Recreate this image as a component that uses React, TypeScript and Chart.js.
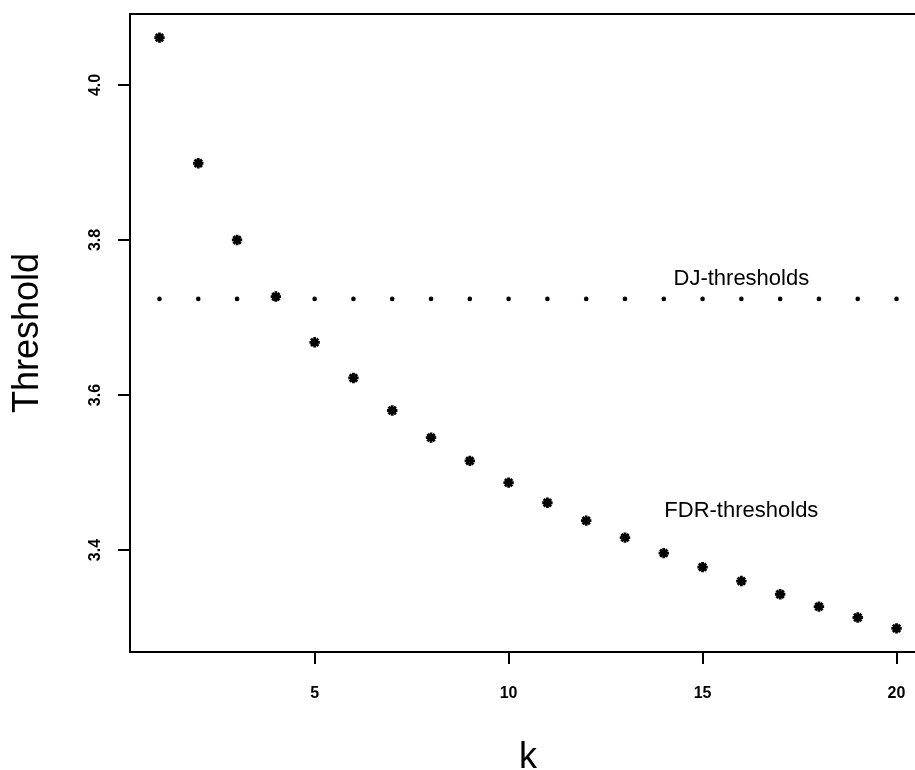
import React, { useEffect, useRef } from "react";
import { Chart, registerables } from "chart.js";

Chart.register(...registerables);

const kValues = [1, 2, 3, 4, 5, 6, 7, 8, 9, 10, 11, 12, 13, 14, 15, 16, 17, 18, 19, 20];
const fdrThresholds = [
  4.061, 3.899, 3.8, 3.727, 3.668, 3.622, 3.58, 3.545, 3.515, 3.487,
  3.461, 3.438, 3.416, 3.396, 3.378, 3.36, 3.343, 3.327, 3.313, 3.299,
];
const djThreshold = 3.724;
const xTicks = [5, 10, 15, 20];
const yTicks = [3.4, 3.6, 3.8, 4.0];
const annotationLabels = ["DJ-thresholds", "FDR-thresholds"];
const annotationX = [16, 16];
const annotationY = [3.75, 3.45];

const FONT = "'Liberation Sans', Arial, Helvetica, sans-serif";

const framePlugin = {
  id: "frame",
  afterDatasetsDraw(chart: any) {
    const { ctx, chartArea } = chart;
    ctx.save();
    ctx.strokeStyle = "#000";
    ctx.lineWidth = 2;
    ctx.beginPath();
    ctx.moveTo(chartArea.left, chartArea.top);
    ctx.lineTo(chartArea.right, chartArea.top);
    ctx.lineTo(chartArea.right, chartArea.bottom);
    ctx.stroke();
    ctx.restore();
  },
};

const annotationPlugin = {
  id: "textAnnotations",
  afterDatasetsDraw(chart: any) {
    const { ctx } = chart;
    const xs = chart.scales.x;
    const ys = chart.scales.y;
    ctx.save();
    ctx.fillStyle = "#000";
    ctx.font = `22px ${FONT}`;
    ctx.textAlign = "center";
    ctx.textBaseline = "middle";
    annotationLabels.forEach((t, i) => {
      ctx.fillText(t, xs.getPixelForValue(annotationX[i]), ys.getPixelForValue(annotationY[i]));
    });
    ctx.restore();
  },
};

export default function App() {
  const ref = useRef<HTMLCanvasElement | null>(null);
  useEffect(() => {
    if (!ref.current) return;
    const chart = new Chart(ref.current, {
      type: "scatter",
      data: {
        datasets: [
          {
            label: "DJ-thresholds",
            data: kValues.map((k) => ({ x: k, y: djThreshold })),
            pointStyle: "circle",
            pointRadius: 2.3,
            pointBackgroundColor: "#000",
            pointBorderColor: "#000",
            pointBorderWidth: 0,
            showLine: false,
          },
          {
            label: "FDR-thresholds",
            data: kValues.map((k, i) => ({ x: k, y: fdrThresholds[i] })),
            pointStyle: "star",
            pointRadius: 5.2,
            pointBorderColor: "#000",
            pointBackgroundColor: "#000",
            pointBorderWidth: 2.8,
            showLine: false,
          },
        ],
      },
      options: {
        responsive: false,
        animation: false,
        events: [],
        layout: { padding: { left: 0, right: 14, top: 14, bottom: 0 } },
        plugins: {
          legend: { display: false },
          tooltip: { enabled: false },
        },
        scales: {
          x: {
            type: "linear",
            min: 0.24,
            max: 20.76,
            afterFit: (s: any) => {
              s.height = 118;
              s.paddingLeft = 0;
              s.paddingRight = 0;
            },
            afterBuildTicks: (s: any) => {
              s.ticks = xTicks.map((v) => ({ value: v }));
            },
            grid: {
              display: true,
              drawOnChartArea: false,
              drawTicks: true,
              tickLength: 12,
              color: "#000",
              lineWidth: 2,
            },
            border: { display: true, color: "#000", width: 2 },
            ticks: {
              color: "#000",
              font: { family: FONT, size: 16, weight: "bold" },
              padding: 20,
              maxRotation: 0,
              minRotation: 0,
            },
            title: {
              display: true,
              text: "k",
              color: "#000",
              font: { family: FONT, size: 36, lineHeight: 0.65 },
              padding: { top: 0, bottom: 0 },
            },
          },
          y: {
            type: "linear",
            min: 3.2685,
            max: 4.0915,
            afterFit: (s: any) => {
              s.width = 130;
              s.paddingTop = 0;
              s.paddingBottom = 0;
            },
            afterBuildTicks: (s: any) => {
              s.ticks = yTicks.map((v) => ({ value: v }));
            },
            grid: {
              display: true,
              drawOnChartArea: false,
              drawTicks: true,
              tickLength: 12,
              color: "#000",
              lineWidth: 2,
            },
            border: { display: true, color: "#000", width: 2 },
            ticks: {
              color: "#000",
              font: { family: FONT, size: 16, weight: "bold" },
              padding: 11,
              minRotation: 90,
              maxRotation: 90,
              crossAlign: "center",
              callback: (v: any) => Number(v).toFixed(1),
            },
            title: {
              display: true,
              text: "Threshold",
              color: "#000",
              font: { family: FONT, size: 36 },
              padding: { top: 6, bottom: 0 },
            },
          },
        },
      },
      plugins: [framePlugin, annotationPlugin],
    } as any);
    return () => chart.destroy();
  }, []);
  return (
    <div
      style={{
        position: "fixed",
        left: 0,
        top: 0,
        width: 915,
        height: 770,
        overflow: "hidden",
        background: "#fff",
      }}
    >
      <canvas ref={ref} width={940} height={770} style={{ width: 940, height: 770, display: "block" }} />
    </div>
  );
}
